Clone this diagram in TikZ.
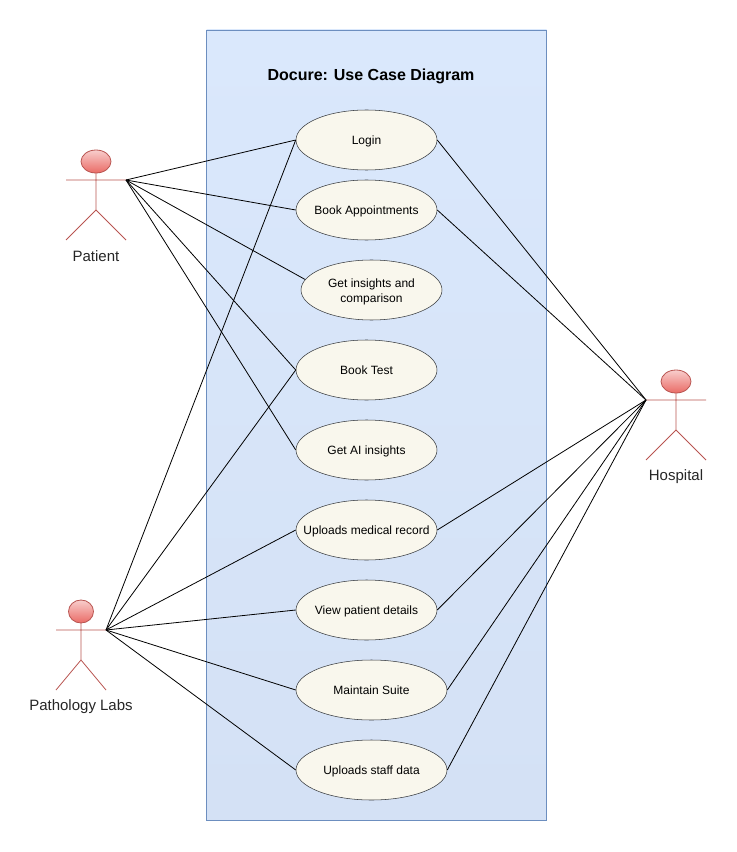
\documentclass[tikz,border=0pt]{standalone}
\usepackage{fontspec}
\setmainfont{Liberation Sans}
\usetikzlibrary{shapes.geometric}

\definecolor{casefill}{HTML}{F9F7ED}
\definecolor{caseline}{HTML}{36393D}
\definecolor{actorred}{HTML}{B85450}
\definecolor{boxtop}{HTML}{DAE8FC}
\definecolor{boxbottom}{HTML}{D4E1F5}
\definecolor{boxline}{HTML}{6C8EBF}
\definecolor{headtop}{HTML}{F8CECC}
\definecolor{headbottom}{HTML}{EA6B66}

\tikzset{
    usecase/.style={draw=caseline, fill=casefill, ellipse, inner xsep=-16pt, inner ysep=-4pt, minimum height=45pt, minimum width=105.75pt, text height=6.4pt, text depth=0pt, font=\fontsize{9}{11.25}\selectfont, align=center},
    actorline/.style={draw=actorred, line width=0.6pt},
    actorhead/.style={actorline, top color=headtop, bottom color=headbottom},
    actorlabel/.style={font=\fontsize{11.25}{13}\selectfont, text=black!85},
    link/.style={draw=black, line width=0.6pt}
}

\begin{document}
\begin{tikzpicture}[x=0.75pt,y=-0.75pt]
        \useasboundingbox (0,0) rectangle (737,852);

        \draw[draw=boxline, top color=boxtop, bottom color=boxbottom] (206.5,30) rectangle (546.5,820);
        \node[font=\fontsize{12}{14}\selectfont\bfseries] (title) at (371,76.5) {Docure: Use Case Diagram};

        % use cases
        \node[usecase] (login) at (366.5,140) {Login};
        \node[usecase] (book) at (366.5,210) {Book Appointments};
        \node[usecase, text height=18pt] (insights) at (371.5,290) {Get insights and\\comparison};
        \node[usecase] (test) at (366.5,370) {Book Test};
        \node[usecase] (ai) at (366.5,450) {Get AI insights};
        \node[usecase] (uploads) at (366.5,530) {Uploads medical record};
        \node[usecase] (view) at (366.5,610) {View patient details};
        \node[usecase, minimum width=113.25pt] (suite) at (371.5,690) {Maintain Suite};
        \node[usecase, minimum width=113.25pt] (staff) at (371.5,770) {Uploads staff data};

        % patient
        \draw[actorhead] (96,161.5) ellipse (15 and 11.5);
        \coordinate (patienthand) at (126,180);
        \draw[actorline] (96,173) -- (96,210) (66,180) -- (patienthand) (66,240) -- (96,210) -- (126,240);
        \node[actorlabel] (patient) at (96,256) {Patient};

        % pathology labs
        \draw[actorhead] (81,611.5) ellipse (12.5 and 11.5);
        \coordinate (labshand) at (106,630);
        \draw[actorline] (81,623) -- (81,660) (56,630) -- (labshand) (56,690) -- (81,660) -- (106,690);
        \node[actorlabel] (labs) at (81,707) {Pathology Labs};

        % hospital
        \draw[actorhead] (676,381.5) ellipse (15 and 11.5);
        \coordinate (hospitalhand) at (646,400);
        \draw[actorline] (676,393) -- (676,430) (hospitalhand) -- (706,400) (646,460) -- (676,430) -- (706,460);
        \node[actorlabel] (hospital) at (676,477) {Hospital};

        \foreach \target in {login.west, book.west, insights.171, test.west, ai.west}
            \draw[link] (patienthand) -- (\target);

        \foreach \target in {login.west, test.west, uploads.west, view.west, suite.west, staff.west}
            \draw[link] (labshand) -- (\target);

        \foreach \target in {login.east, book.east, uploads.east, view.east, suite.east, staff.east}
            \draw[link] (hospitalhand) -- (\target);

    \end{tikzpicture}
\end{document}
